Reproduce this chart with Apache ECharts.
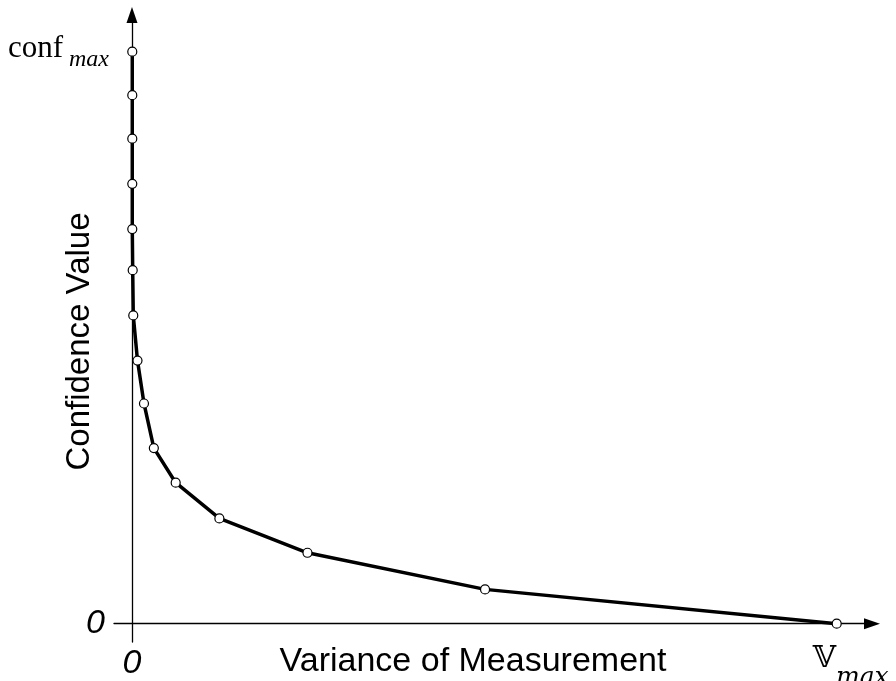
<!DOCTYPE html>
<html lang="en">
<head>
    <meta charset="UTF-8">
    <title>Confidence vs Variance</title>
    <style>
        html, body {margin: 0; padding: 0; background: #fff;}
    </style>
</head>
<body>
<div id="main" style="width:896px;height:681px"></div>
<script src="https://cdn.jsdelivr.net/npm/echarts@6/dist/echarts.min.js"></script>
<script>
    // values (x: 0..V_max scaled to 0..1, y: 0..conf_max scaled to 0..1)
    var variance = [0.0004, 0.0004, 0.0004, 0.0004, 0.0004, 0.001, 0.0018, 0.0078, 0.017, 0.031, 0.062, 0.124, 0.249, 0.501, 1.0];
    var confidence = [1.0, 0.924, 0.848, 0.769, 0.690, 0.618, 0.539, 0.460, 0.385, 0.307, 0.2465, 0.184, 0.124, 0.060, 0.0];

    var xTicks = [0, 1];
    var yTicks = [0, 1];
    var xTickText = ['0', '\uD835\uDD4D', 'max'];
    var yTickText = ['0', 'conf', 'max'];

    var points = [];
    for (var i = 0; i < variance.length; i++) {
        points.push([variance[i], confidence[i]]);
    }

    var myChart = echarts.init(document.getElementById('main'));

    var option = {
        animation: false,
        backgroundColor: '#fff',
        grid: {
            left: 114,
            right: 24,
            top: 15,
            bottom: 39,
            outerBoundsMode: 'none'
        },
        xAxis: {
            type: 'value',
            min: -0.02554,
            max: 1.0501,
            name: 'Variance of Measurement',
            nameLocation: 'middle',
            nameGap: 3,
            nameMoveOverlap: false,
            nameTextStyle: {
                fontFamily: 'Liberation Sans',
                fontSize: 34,
                color: '#000',
                padding: [0, 40, 0, 0]
            },
            axisLine: {
                onZero: true,
                symbol: ['none', 'triangle'],
                symbolSize: [11, 16],
                lineStyle: {color: '#000', width: 1.3}
            },
            axisTick: {show: false},
            splitLine: {show: false},
            axisLabel: {
                customValues: xTicks,
                margin: -13,
                formatter: function (v) {
                    if (v === 0) return '{z|' + xTickText[0] + '}';
                    return '{v|' + xTickText[1] + '}{s|' + xTickText[2] + '}';
                },
                rich: {
                    z: {fontFamily: 'Liberation Sans', fontStyle: 'italic', fontSize: 34, lineHeight: 34, color: '#000', padding: [36, 0, 0, 0]},
                    v: {fontFamily: 'DejaVu Serif', fontSize: 30, lineHeight: 61, color: '#000', padding: [0, 0, 0, 28]},
                    s: {fontFamily: 'DejaVu Serif', fontStyle: 'italic', fontSize: 25, lineHeight: 25, color: '#000', padding: [36, 0, 0, 0]}
                }
            }
        },
        yAxis: {
            type: 'value',
            min: -0.032,
            max: 1.0642,
            name: 'Confidence Value',
            nameLocation: 'middle',
            nameGap: 18,
            nameMoveOverlap: false,
            nameTextStyle: {
                fontFamily: 'Liberation Sans',
                fontSize: 33,
                color: '#000',
                padding: [0, 26, 0, 0]
            },
            axisLine: {
                onZero: true,
                symbol: ['none', 'triangle'],
                symbolSize: [11, 16],
                lineStyle: {color: '#000', width: 1.3}
            },
            axisTick: {show: false},
            splitLine: {show: false},
            axisLabel: {
                customValues: yTicks,
                margin: 5,
                formatter: function (v) {
                    if (v === 0) return '{z|' + yTickText[0] + '}';
                    return '{c|' + yTickText[1] + '}{s| ' + yTickText[2] + '}';
                },
                rich: {
                    z: {fontFamily: 'Liberation Sans', fontStyle: 'italic', fontSize: 34, color: '#000', padding: [0, 4, 0, 0]},
                    c: {fontFamily: 'Liberation Serif', fontSize: 31, color: '#000', padding: [0, 0, 6, 0]},
                    s: {fontFamily: 'Liberation Serif', fontStyle: 'italic', fontSize: 24, color: '#000', padding: [16, 0, 0, 0]}
                }
            }
        },
        series: [
            {
                type: 'line',
                data: points,
                showAllSymbol: true,
                symbol: 'circle',
                symbolSize: 9,
                lineStyle: {color: '#000', width: 3.5},
                itemStyle: {color: '#fff', borderColor: '#000', borderWidth: 1.2},
                z: 5
            }
        ]
    };

    myChart.setOption(option);
</script>
</body>
</html>
